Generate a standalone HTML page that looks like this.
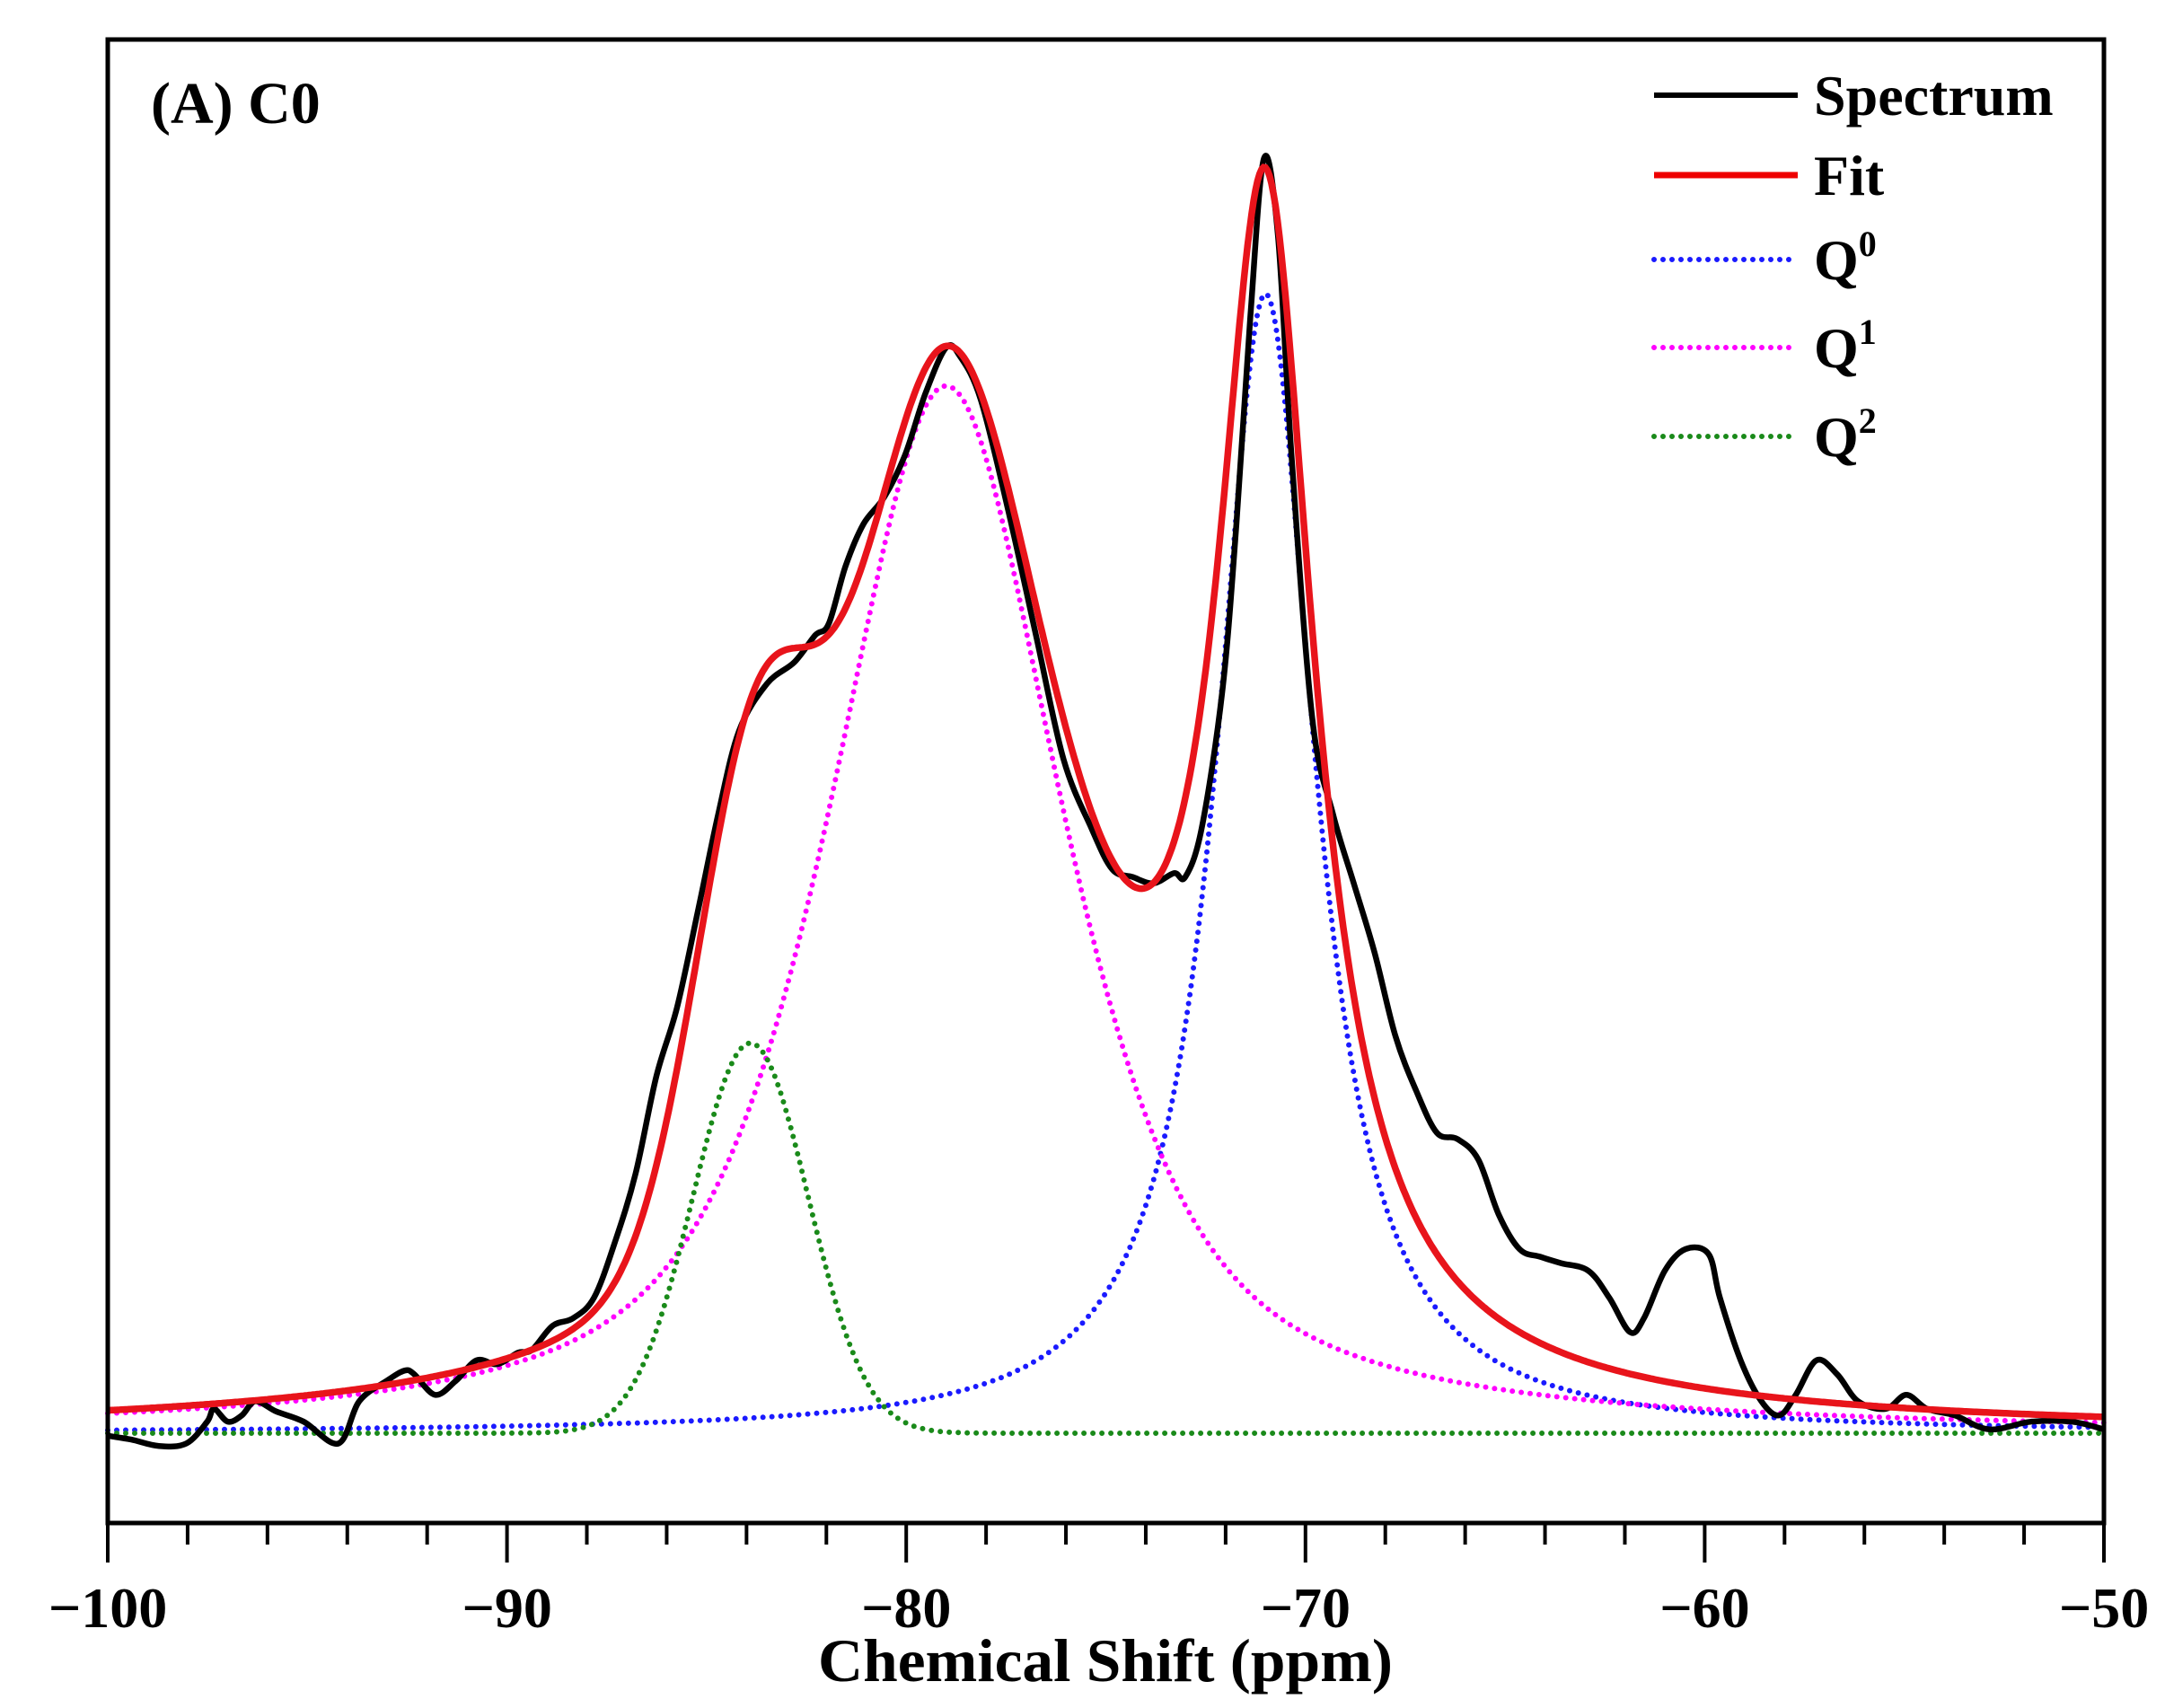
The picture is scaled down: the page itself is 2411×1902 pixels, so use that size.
<!DOCTYPE html>
<html><head><meta charset="utf-8">
<style>
html,body{margin:0;padding:0;background:#fff;}
svg{display:block;}
text{font-family:"Liberation Serif",serif;font-weight:bold;fill:#000;}
</style></head>
<body>
<svg id="chart" width="2411" height="1902" viewBox="0 0 2411 1902" xmlns="http://www.w3.org/2000/svg">
<g id="curves"></g>
<rect x="120" y="44" width="2223" height="1652" fill="none" stroke="#000" stroke-width="5"/>
<g id="axis"></g>
<text x="1231" y="1872" font-size="68" text-anchor="middle" textLength="640" lengthAdjust="spacingAndGlyphs">Chemical Shift (ppm)</text>
<text x="168" y="137" font-size="66">(A) C0</text>
<g>
  <line x1="1842" y1="106" x2="2002" y2="106" stroke="#000" stroke-width="6"/>
  <text x="2020" y="128" font-size="64">Spectrum</text>
  <line x1="1842" y1="195" x2="2002" y2="195" stroke="#e00" stroke-width="7"/>
  <text x="2020" y="217" font-size="64">Fit</text>
  <line x1="1842" y1="289" x2="2000" y2="289" stroke="#1a1aff" stroke-width="6" stroke-dasharray="0 10" stroke-linecap="round"/>
  <text x="2020" y="311" font-size="64">Q<tspan font-size="40" dy="-26">0</tspan></text>
  <line x1="1842" y1="387" x2="2000" y2="387" stroke="#f0f" stroke-width="6" stroke-dasharray="0 10" stroke-linecap="round"/>
  <text x="2020" y="409" font-size="64">Q<tspan font-size="40" dy="-26">1</tspan></text>
  <line x1="1842" y1="486" x2="2000" y2="486" stroke="#1a8a1a" stroke-width="6" stroke-dasharray="0 10" stroke-linecap="round"/>
  <text x="2020" y="508" font-size="64">Q<tspan font-size="40" dy="-26">2</tspan></text>
</g>
</svg>
<script>
const specShift = [-100,-99.41,-98.72,-98.03,-97.51,-97.34,-96.99,-96.64,-96.30,-95.78,-95.09,-94.22,-93.70,-93.01,-92.56,-92.32,-91.80,-91.28,-90.76,-90.24,-89.72,-89.38,-88.86,-88.34,-87.82,-87.30,-86.78,-86.26,-85.74,-85.22,-84.71,-84.19,-83.49,-82.80,-82.28,-81.94,-81.52,-81.07,-80.55,-80.03,-79.52,-79.00,-78.65,-78.13,-77.44,-76.75,-76.06,-75.36,-74.84,-74.33,-73.81,-73.29,-73.01,-72.60,-72.08,-71.73,-71.38,-71.04,-70.69,-70.35,-69.83,-69.31,-68.79,-68.27,-67.75,-67.23,-66.71,-66.19,-65.67,-65.16,-64.64,-64.12,-63.60,-62.91,-62.39,-61.87,-61.52,-61.00,-60.48,-59.90,-59.62,-59.10,-58.58,-58.13,-57.72,-57.20,-56.68,-56.16,-55.47,-54.95,-54.43,-53.74,-52.87,-51.83,-50.80,-50];
const specIntensity = [-0.002,-0.005,-0.010,-0.008,0.009,0.019,0.009,0.014,0.025,0.017,0.009,-0.008,0.025,0.041,0.049,0.046,0.030,0.041,0.057,0.054,0.063,0.065,0.084,0.090,0.106,0.149,0.203,0.279,0.333,0.408,0.484,0.549,0.586,0.603,0.624,0.633,0.678,0.711,0.732,0.765,0.813,0.849,0.842,0.808,0.721,0.624,0.527,0.473,0.441,0.435,0.430,0.438,0.435,0.473,0.581,0.711,0.873,0.997,0.937,0.765,0.559,0.484,0.430,0.376,0.311,0.268,0.235,0.230,0.214,0.171,0.144,0.138,0.133,0.127,0.106,0.079,0.090,0.127,0.144,0.140,0.106,0.057,0.025,0.014,0.030,0.057,0.046,0.025,0.019,0.030,0.019,0.014,0.003,0.009,0.009,0.003];
// fitted component parameters: Q0, Q1, Q2
const compCenters = [-71.0, -79.0, -83.9];
const compHeights = [0.891, 0.819, 0.305];
const compHWHM = [1.5, 3.5, 1.7];
const compLorentzFrac = [1.0, 0.7, 0.0];
const compColors = ['#1a1aff', '#ff00ff', '#1a8a1a'];
const tickLabels = ['\u2212100','\u221290','\u221280','\u221270','\u221260','\u221250'];
const tickValues = [-100,-90,-80,-70,-60,-50];

const X0=120, X1=2343, Y0=1596, YS=1424;
const xs = p => X0 + (p + 100) / 50 * (X1 - X0);
const ys = v => Y0 - v * YS;
const NS='http://www.w3.org/2000/svg';
const curves=document.getElementById('curves');
const axis=document.getElementById('axis');

function comp(i,p){
  const d=p-compCenters[i], w=compHWHM[i];
  const L=w*w/(d*d+w*w), G=Math.exp(-Math.LN2*d*d/(w*w));
  return compHeights[i]*(compLorentzFrac[i]*L+(1-compLorentzFrac[i])*G);
}
function pathFrom(pts){return pts.map((q,i)=>(i?'L':'M')+q[0].toFixed(1)+' '+q[1].toFixed(1)).join(' ');}
const grid=[];for(let k=0;k<=1000;k++)grid.push(-100+k*0.05);

const names=['q0-curve','q1-curve','q2-curve'];
for(let i=0;i<3;i++){
  const p=document.createElementNS(NS,'path');
  p.setAttribute('d',pathFrom(grid.map(g=>[xs(g),ys(comp(i,g))])));
  p.setAttribute('fill','none');p.setAttribute('stroke',compColors[i]);
  p.setAttribute('stroke-width','6');p.setAttribute('stroke-dasharray','0 10');p.setAttribute('stroke-linecap','round');
  
  
  curves.appendChild(p);
}
// spectrum (smooth via Catmull-Rom)
(function(){
  const pts=specShift.map((s,i)=>[xs(s),ys(specIntensity[i])]);
  let d='M'+pts[0][0]+' '+pts[0][1];
  for(let i=0;i<pts.length-1;i++){
    const p0=pts[Math.max(0,i-1)],p1=pts[i],p2=pts[i+1],p3=pts[Math.min(pts.length-1,i+2)];
    d+=' C'+(p1[0]+(p2[0]-p0[0])/6).toFixed(1)+' '+(p1[1]+(p2[1]-p0[1])/6).toFixed(1)+' '+(p2[0]-(p3[0]-p1[0])/6).toFixed(1)+' '+(p2[1]-(p3[1]-p1[1])/6).toFixed(1)+' '+p2[0].toFixed(1)+' '+p2[1].toFixed(1);
  }
  const p=document.createElementNS(NS,'path');
  p.setAttribute('d',d);p.setAttribute('fill','none');p.setAttribute('stroke','#000');p.setAttribute('stroke-width','6.5');p.setAttribute('stroke-linejoin','round');
  
  
  curves.appendChild(p);
})();
// fit
(function(){
  const p=document.createElementNS(NS,'path');
  p.setAttribute('d',pathFrom(grid.map(g=>[xs(g),ys(comp(0,g)+comp(1,g)+comp(2,g))])));
  p.setAttribute('fill','none');p.setAttribute('stroke','#e8141b');p.setAttribute('stroke-width','7.5');
  
  
  curves.appendChild(p);
})();
// ticks
for(let v=-100;v<=-50;v+=2){
  const major=(v%10===0);
  const l=document.createElementNS(NS,'line');
  l.setAttribute('x1',xs(v));l.setAttribute('x2',xs(v));
  l.setAttribute('y1',1696);l.setAttribute('y2',major?1740:1720);
  l.setAttribute('stroke','#000');l.setAttribute('stroke-width','4');
  
  
  axis.appendChild(l);
}
tickValues.forEach((v,i)=>{
  const t=document.createElementNS(NS,'text');
  t.setAttribute('x',xs(v));t.setAttribute('y',1812);
  t.setAttribute('font-size','64');t.setAttribute('text-anchor','middle');
  t.textContent=tickLabels[i];
  
  
  axis.appendChild(t);
});
</script>
</body></html>
